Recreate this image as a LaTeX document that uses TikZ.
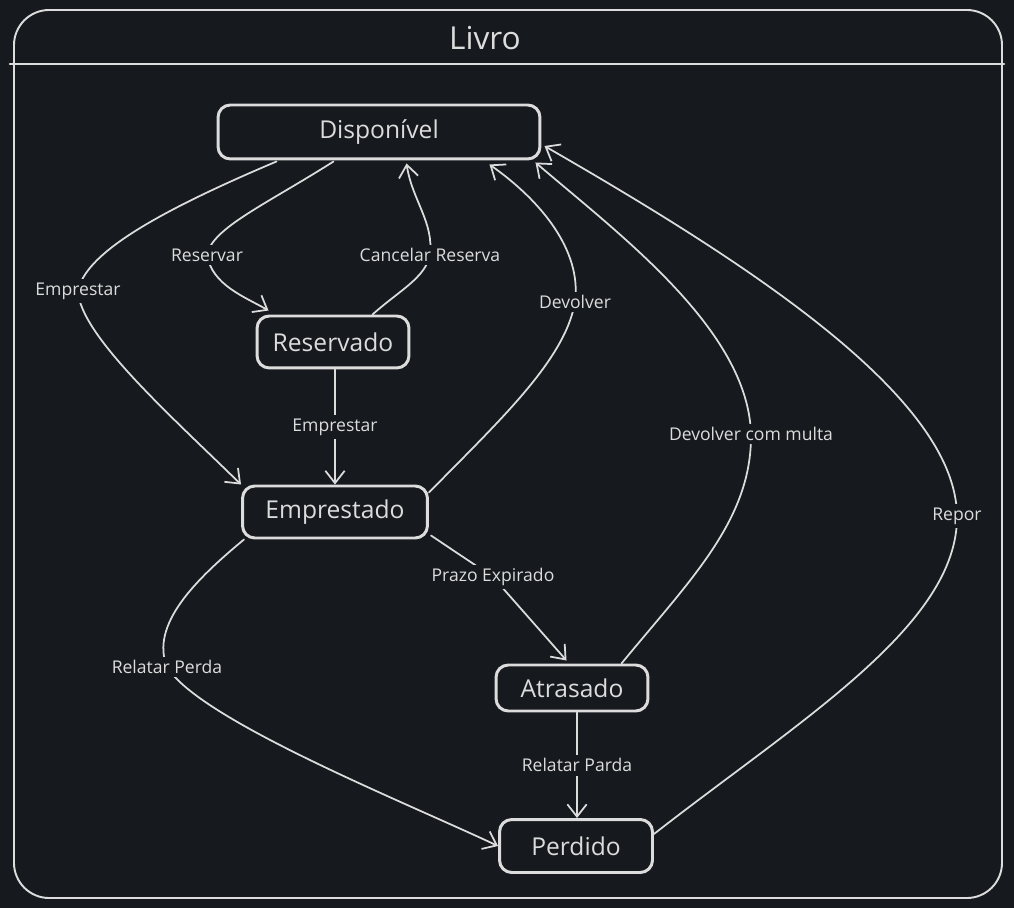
\documentclass[tikz,border=0pt]{standalone}
\usepackage{fontspec}
\setmainfont{Open Sans}
\usetikzlibrary{arrows.meta,calc}
\definecolor{bgc}{HTML}{16191D}
\definecolor{ink}{HTML}{DCDCDC}
\begin{document}
\begin{tikzpicture}[x=0.02cm, y=-0.02cm, line join=round, line cap=round, >={Straight Barb[length=7pt,width=11pt]},
  state/.style={draw=ink, line width=1.7pt, rounded corners=7pt, text=ink, font=\fontsize{14}{16}\selectfont, inner sep=0pt},
  lbl/.style={fill=bgc, text=ink, font=\fontsize{10}{12}\selectfont, inner sep=2pt},
  flow/.style={draw=ink, line width=1pt, ->}]
\fill[bgc] (0,0) rectangle (1014,908);
\draw[ink, line width=1.1pt, rounded corners=20pt] (14,10) rectangle (1002,898);
\draw[ink, line width=1.6pt] (10,64)--(1004,64);
\node[text=ink, font=\fontsize{18}{20}\selectfont] (title) at (485,38) {Livro};
\node[state, minimum width=6.44cm, minimum height=1.08cm] (disp) at (379,132) {Disponível};
\node[state, minimum width=3.04cm, minimum height=1.04cm] (res) at (333,342) {Reservado};
\node[state, minimum width=3.7cm, minimum height=1.04cm] (emp) at (335,512) {Emprestado};
\node[state, minimum width=3.04cm, minimum height=0.92cm] (atr) at (572,688) {Atrasado};
\node[state, minimum width=3.06cm, minimum height=1.06cm] (per) at (576,846) {Perdido};
\draw[flow] ($(disp.south west)+(60,1)$) .. controls (150,215) and (85,255) .. (78,291) node[lbl]{Emprestar}
  .. controls (80,335) and (170,415) .. (emp.north west);
\draw[flow] ($(disp.south west)+(117,1)$) .. controls (265,205) and (212,228) .. (207,255) node[lbl]{Reservar}
  .. controls (212,285) and (245,297) .. ($(res.north west)+(13,-4)$);
\draw[flow] ($(res.north east)+(-38,0)$) .. controls (400,290) and (425,278) .. (430,255) node[lbl]{Cancelar Reserva}
  .. controls (434,222) and (412,200) .. ($(disp.south west)+(190,3)$);
\draw[flow] ($(res.south)+(2,0)$) -- node[lbl]{Emprestar} (emp.north);
\draw[flow] ($(emp.north east)+(0,8)$) .. controls (500,420) and (565,360) .. (575,302) node[lbl]{Devolver}
  .. controls (582,250) and (540,200) .. ($(disp.south east)+(-52,4)$);
\draw[flow] ($(emp.south east)+(2,-4)$) -- (493,577) node[lbl]{Prazo Expirado} -- ($(atr.north west)+(72,-3)$);
\draw[flow] ($(atr.north east)+(-28,0)$) .. controls (690,580) and (752,520) .. (751,434) node[lbl]{Devolver com multa}
  .. controls (748,330) and (620,235) .. ($(disp.south east)+(-6,2)$);
\draw[flow] ($(per.east)+(0,-12)$) .. controls (800,720) and (958,625) .. (957,516) node[lbl]{Repor}
  .. controls (956,400) and (760,270) .. ($(disp.east)+(3,14)$);
\draw[flow] ($(emp.south west)+(3,0)$) .. controls (195,580) and (150,625) .. (167,667) node[lbl]{Relatar Perda}
  .. controls (200,720) and (400,800) .. (per.west);
\draw[flow] ($(atr.south)+(5,0)$) -- node[lbl]{Relatar Parda} ($(per.north)+(1,0)$);
\end{tikzpicture}
\end{document}
